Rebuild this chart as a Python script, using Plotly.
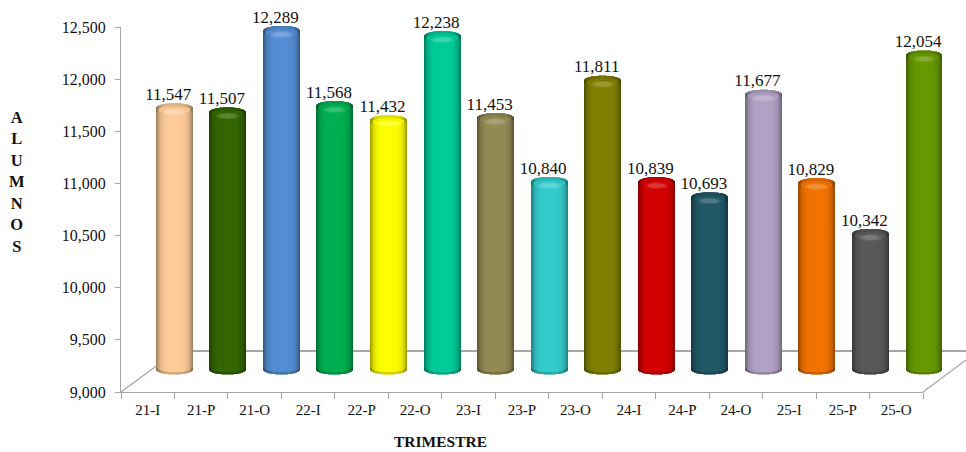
import plotly.graph_objects as go

categories = ["21-I","21-P","21-O","22-I","22-P","22-O","23-I","23-P","23-O","24-I","24-P","24-O","25-I","25-P","25-O"]
values = [11547,11507,12289,11568,11432,12238,11453,10840,11811,10839,10693,11677,10829,10342,12054]
colors = ["#FFCC99","#336600","#558ED5","#00B050","#FFFF00","#00CC99","#948A54","#33CCCC","#808000",
          "#D60000","#215868","#B3A2C7","#F27300","#595959","#669900"]

W, H = 966, 452
FONT = "Liberation Serif"
K = 0.1043          # px per student
X0, DX = 174.3, 53.55
Y9000 = 369.0
HALF_PX = 18
CAP_PX = 5.3

def rgb(c):
    return tuple(int(c[i:i+2], 16) for i in (1, 3, 5))

def shade(c, s, white=0.0):
    r = [min(255, v * s) for v in rgb(c)]
    r = [v + (255 - v) * white for v in r]
    return "rgb(%d,%d,%d)" % tuple(round(v) for v in r)

def body_s(u):
    a = abs(u)
    pts = [(0, 1.0), (.5, .98), (.75, .89), (.9, .74), (1.0, .6)]
    for (a0, s0), (a1, s1) in zip(pts, pts[1:]):
        if a <= a1:
            return s0 + (s1 - s0) * (a - a0) / (a1 - a0)
    return pts[-1][1]

def arc(u, p=2.3):
    return max(0.0, 1 - abs(u) ** p) ** (1 / p)

fig = go.Figure()

# main axes (labels / ticks only)
fig.add_trace(go.Scatter(x=categories, y=values, mode="markers", marker=dict(opacity=0),
                         hoverinfo="skip", showlegend=False, xaxis="x", yaxis="y"))

us = sorted([(j + .5) / HALF_PX - 1 for j in range(2 * HALF_PX)], key=lambda u: -abs(u))
idx = list(range(len(values)))

def layer(umax, base_px, height_px, color_fn):
    """One bar trace per 1-px strip; base_px/height_px give offsets in pixels."""
    for u in us:
        if abs(u) > umax:
            continue
        fig.add_trace(go.Bar(
            x=[i + u * HALF_PX / DX for i in idx],
            y=[height_px(u, v) / K for v in values],
            base=[9000 + base_px(u, v) / K for v in values],
            width=1.0 / DX,
            marker=dict(color=[color_fn(u, c) for c in colors], line=dict(width=0)),
            hoverinfo="skip", showlegend=False, xaxis="x2", yaxis="y2"))

def top(v):
    return (v - 9000) * K

# cylinder body
layer(1, lambda u, v: -CAP_PX * arc(u),
      lambda u, v: top(v) - CAP_PX + CAP_PX * arc(u) + CAP_PX * arc(u),
      lambda u, c: shade(c, body_s(u)))
# bottom rim
layer(1, lambda u, v: -CAP_PX * arc(u), lambda u, v: 2.0,
      lambda u, c: shade(c, body_s(u) * .82))
# top cap, darker
layer(1, lambda u, v: top(v) - CAP_PX - CAP_PX * arc(u), lambda u, v: 2 * CAP_PX * arc(u),
      lambda u, c: shade(c, body_s(u) * .88))
# inner cap
layer(.85, lambda u, v: top(v) - CAP_PX - 1.5 - 4.0 * arc(u / .85), lambda u, v: 8.0 * arc(u / .85),
      lambda u, c: shade(c, .95))
# highlight at cap rim
layer(.6, lambda u, v: top(v) - 8.5 - 3.2 * arc(u / .6), lambda u, v: 6.4 * arc(u / .6),
      lambda u, c: shade(c, 1.0, .08))
layer(.42, lambda u, v: top(v) - 8.5 - 2.2 * arc(u / .42), lambda u, v: 4.4 * arc(u / .42),
      lambda u, c: shade(c, 1.0, .2))

# data labels
fig.add_trace(go.Scatter(
    x=[i - 6.0 / DX for i in idx], y=[v - 8 for v in values], mode="text",
    text=[f"{v:,}" for v in values], textposition="top center",
    textfont=dict(family=FONT, size=17, color="#111111"),
    hoverinfo="skip", showlegend=False, xaxis="x2", yaxis="y2", cliponaxis=False))

GREY = "#A6A6A6"
def pline(x0, y0, x1, y1, w=1.3):
    return dict(type="line", xref="paper", yref="paper", layer="below",
                x0=x0 / W, x1=x1 / W, y0=1 - y0 / H, y1=1 - y1 / H,
                line=dict(color=GREY, width=w))

fig.update_layout(
    width=W, height=H, margin=dict(l=0, r=0, t=0, b=0, pad=0, autoexpand=False), autosize=False,
    paper_bgcolor="white", plot_bgcolor="rgba(0,0,0,0)",
    barmode="overlay", showlegend=False,
    font=dict(family=FONT, size=15, color="#111111"),
    xaxis=dict(domain=[121 / W, 923 / W], type="category", categoryorder="array", categoryarray=categories,
               range=[-.5, 14.5], tickson="boundaries", ticks="outside", ticklen=6, tickcolor=GREY, tickwidth=1.3,
               ticklabelstandoff=4,
               showline=True, linecolor=GREY, linewidth=1.3, showgrid=False, zeroline=False,
               anchor="y", tickfont=dict(family=FONT, size=15, color="#111111"), fixedrange=True),
    yaxis=dict(domain=[1 - 392 / H, 1 - 27 / H], range=[9000, 12500], dtick=500, tick0=9000, tickformat=",",
               ticks="outside", ticklen=5, tickcolor=GREY, tickwidth=1.3, ticklabelstandoff=6,
               showline=True, linecolor=GREY, linewidth=1.3, showgrid=False, zeroline=False,
               anchor="x", tickfont=dict(family=FONT, size=16, color="#111111"), fixedrange=True),
    xaxis2=dict(domain=[0, 1], range=[(0 - X0) / DX, (W - X0) / DX], visible=False, anchor="y2", fixedrange=True),
    yaxis2=dict(domain=[0, 1], range=[9000 - (H - Y9000) / K, 9000 + Y9000 / K], visible=False, anchor="x2", fixedrange=True),
    shapes=[pline(121, 392, 178, 350), pline(923, 392, 978, 351), pline(178, 351, 966, 351, 1.8)],
    annotations=[
        dict(text="<b>TRIMESTRE</b>", xref="paper", yref="paper", x=440 / W, y=1 - 451 / H, showarrow=False,
             xanchor="center", yanchor="bottom", borderpad=0, font=dict(family=FONT, size=15.5, color="#111111")),
        dict(text="<br>".join(f"<b>{ch}</b>" for ch in "ALUMNOS"), xref="paper", yref="paper",
             x=16.5 / W, y=1 - 181.5 / H, showarrow=False, align="center",
             xanchor="center", yanchor="middle", font=dict(family=FONT, size=16.5, color="#111111")),
    ],
)

fig.write_html("out.html", config=dict(displayModeBar=False),
               post_script="document.body.style.margin='0';document.body.style.overflow='hidden';")
